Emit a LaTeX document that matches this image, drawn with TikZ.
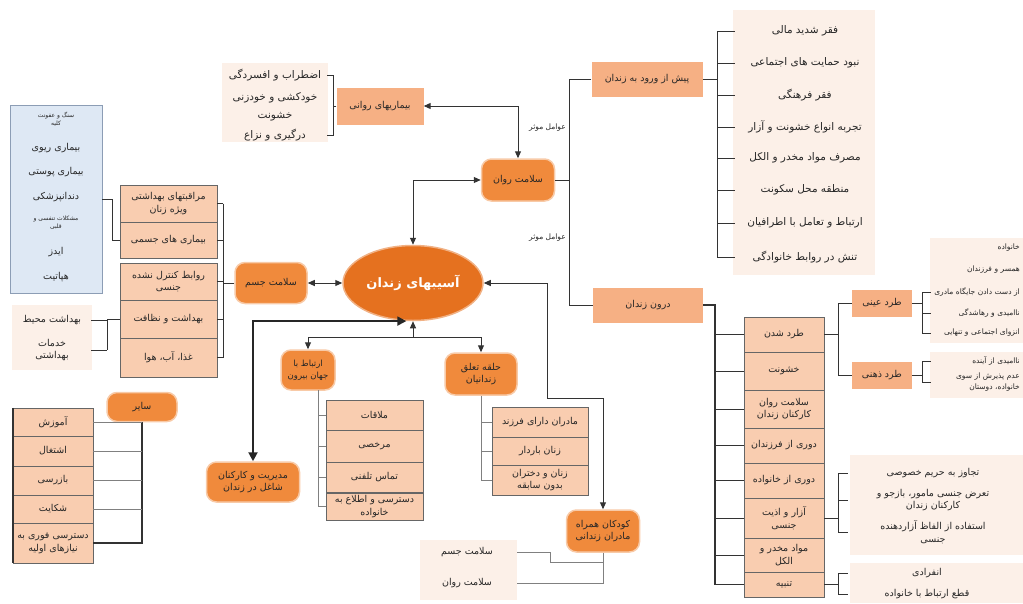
\documentclass[tikz,border=0pt]{standalone}
\usepackage{fontspec}
\newfontfamily\arabicfont[Script=Arabic]{DejaVu Sans}
\TeXXeTstate=1
\usetikzlibrary{arrows.meta}
\usetikzlibrary{shapes.geometric}

\definecolor{hubfill}{HTML}{E5711F}
\definecolor{mainfill}{HTML}{F08A3C}
\definecolor{catfill}{HTML}{F6B084}
\definecolor{boxfill}{HTML}{F9CDB0}
\definecolor{panelfill}{HTML}{FCF0E8}
\definecolor{bluefill}{HTML}{DEE8F4}
\definecolor{blueline}{HTML}{8C9DB5}

\newcommand{\fa}[1]{\beginR #1\endR}

\tikzset{
  txt/.style={font=\arabicfont\fontsize{9.5}{12.5}\selectfont, text=black!85, align=center, inner sep=1pt},
  big/.style={font=\arabicfont\fontsize{10.5}{13}\selectfont},
  small/.style={font=\arabicfont\fontsize{6}{8}\selectfont},
  side/.style={txt, font=\arabicfont\fontsize{7.5}{11}\selectfont, text width=88pt, align=right, anchor=east},
  hub/.style={txt, ellipse, fill=hubfill, draw=hubfill!55, line width=1.5pt, minimum width=140pt, minimum height=75pt, text=white, font=\arabicfont\bfseries\fontsize{13}{15}\selectfont},
  main/.style={txt, rounded corners=10pt, fill=mainfill, draw=mainfill!45, line width=1.5pt},
  cat/.style={txt, fill=catfill},
  box/.style={txt, fill=boxfill, draw=black!60},
  link/.style={draw=black!80, line width=1pt},
  faint/.style={draw=black!50, line width=0.6pt},
  onearr/.style={link, -{Triangle[width=6pt,length=7pt]}},
  twoarr/.style={link, {Triangle[width=6pt,length=7pt]}-{Triangle[width=6pt,length=7pt]}},
  twoarrT/.style={draw=black!85, line width=2pt, {Triangle[width=9pt,length=9pt]}-{Triangle[width=9pt,length=9pt]}}
}

\begin{document}
\begin{tikzpicture}[x=1pt, y=-1pt]
  \useasboundingbox (0,0) rectangle (1023,603);

  \fill[panelfill] (222,63) rectangle (328,142);
  \fill[panelfill] (733,10) rectangle (875,275);
  \fill[panelfill] (12,305) rectangle (92,370);
  \fill[panelfill] (930,238) rectangle (1023,343);
  \fill[panelfill] (930,352) rectangle (1023,398);
  \fill[panelfill] (850,455) rectangle (1023,555);
  \fill[panelfill] (850,563) rectangle (1023,603);
  \fill[panelfill] (420,540) rectangle (517,600);

  \node[hub] (hub) at (413,283) {\fa{آسیبهای زندان}};
  \node[main, minimum width=73pt, minimum height=42pt] (rav) at (518,180) {\fa{سلامت روان}};
  \node[main, minimum width=72pt, minimum height=41pt] (jesm) at (271,283) {\fa{سلامت جسم}};
  \node[main, minimum width=70pt, minimum height=29pt] (sayer) at (142,407) {\fa{سایر}};
  \node[main, minimum width=54pt, minimum height=40pt, font=\arabicfont\fontsize{8.5}{12}\selectfont] (ertb) at (308,370) {\fa{ارتباط با}\\\fa{جهان بیرون}};
  \node[main, minimum width=72pt, minimum height=42pt] (halq) at (481,374) {\fa{حلقه تعلق}\\\fa{زندانیان}};
  \node[main, minimum width=93pt, minimum height=40pt] (mod) at (253,482) {\fa{مدیریت و کارکنان}\\\fa{شاغل در زندان}};
  \node[main, minimum width=73pt, minimum height=42pt] (kids) at (603,531) {\fa{کودکان همراه}\\\fa{مادران زندانی}};

  \node[cat, minimum width=87pt, minimum height=37pt] (bim) at (380,106) {\fa{بیماریهای روانی}};
  \node[cat, minimum width=111pt, minimum height=35pt] (pish) at (647,79) {\fa{پیش از ورود به زندان}};
  \node[cat, minimum width=110pt, minimum height=35pt] (darun) at (648,305) {\fa{درون زندان}};
  \node[cat, minimum width=60pt, minimum height=27pt] (eyni) at (882,303) {\fa{طرد عینی}};
  \node[cat, minimum width=60pt, minimum height=27pt] (zehni) at (882,375) {\fa{طرد ذهنی}};

  \node[txt, big] (r1) at (275,75) {\fa{اضطراب و افسردگی}};
  \node[txt, big] (r2) at (275,98) {\fa{خودکشی و خودزنی}};
  \node[txt, big] (r3) at (275,117) {\fa{خشونت}};
  \node[txt, big] (r4) at (275,135) {\fa{درگیری و نزاع}};

  \node[txt, big, minimum width=140pt] (p1) at (805,31) {\fa{فقر شدید مالی}};
  \node[txt, big, minimum width=140pt] (p2) at (805,63) {\fa{نبود حمایت های اجتماعی}};
  \node[txt, big, minimum width=140pt] (p3) at (805,95) {\fa{فقر فرهنگی}};
  \node[txt, big, minimum width=140pt] (p4) at (805,127) {\fa{تجربه انواع خشونت و آزار}};
  \node[txt, big, minimum width=140pt] (p5) at (805,158) {\fa{مصرف مواد مخدر و الکل}};
  \node[txt, big, minimum width=140pt] (p6) at (805,190) {\fa{منطقه محل سکونت}};
  \node[txt, big, minimum width=140pt] (p7) at (805,223) {\fa{ارتباط و تعامل با اطرافیان}};
  \node[txt, big, minimum width=140pt] (p8) at (805,257) {\fa{تنش در روابط خانوادگی}};

  \node[txt, font=\arabicfont\fontsize{7.5}{9}\selectfont, anchor=east] (f1) at (567,128) {\fa{عوامل موثر}};
  \node[txt, font=\arabicfont\fontsize{7.5}{9}\selectfont, anchor=east] (f2) at (567,238) {\fa{عوامل موثر}};

  \node[box, minimum width=80pt, minimum height=35pt] (d1) at (784,334.5) {\fa{طرد شدن}};
  \node[box, minimum width=80pt, minimum height=38pt] (d2) at (784,371) {\fa{خشونت}};
  \node[box, minimum width=80pt, minimum height=38pt] (d3) at (784,409) {\fa{سلامت روان}\\\fa{کارکنان زندان}};
  \node[box, minimum width=80pt, minimum height=35pt] (d4) at (784,445.5) {\fa{دوری از فرزندان}};
  \node[box, minimum width=80pt, minimum height=35pt] (d5) at (784,480.5) {\fa{دوری از خانواده}};
  \node[box, minimum width=80pt, minimum height=40pt] (d6) at (784,518) {\fa{آزار و اذیت}\\\fa{جنسی}};
  \node[box, minimum width=80pt, minimum height=34pt] (d7) at (784,555) {\fa{مواد مخدر و}\\\fa{الکل}};
  \node[box, minimum width=80pt, minimum height=25pt] (d8) at (784,584.5) {\fa{تنبیه}};

  \node[side] (o1) at (1021,248) {\fa{خانواده}};
  \node[side] (o2) at (1021,270) {\fa{همسر و فرزندان}};
  \node[side] (o3) at (1021,292) {\fa{از دست دادن جایگاه مادری}};
  \node[side] (o4) at (1021,313) {\fa{ناامیدی و رهاشدگی}};
  \node[side] (o5) at (1021,333) {\fa{انزوای اجتماعی و تنهایی}};
  \node[side] (z1) at (1021,361) {\fa{ناامیدی از آینده}};
  \node[side] (z2) at (1021,382) {\fa{عدم پذیرش از سوی}\\\fa{خانواده، دوستان}};

  \node[txt, minimum width=170pt] (a1) at (933,473) {\fa{تجاوز به حریم خصوصی}};
  \node[txt, minimum width=170pt] (a2) at (933,500) {\fa{تعرض جنسی مامور، بازجو و}\\\fa{کارکنان زندان}};
  \node[txt, minimum width=170pt] (a3) at (933,532) {\fa{استفاده از الفاظ آزاردهنده}\\\fa{جنسی}};
  \node[txt, minimum width=158pt] (t1) at (927,573) {\fa{انفرادی}};
  \node[txt, minimum width=158pt] (t2) at (927,594) {\fa{قطع ارتباط با خانواده}};

  \node[draw=blueline, fill=bluefill, minimum width=92pt, minimum height=188pt, inner sep=0pt] (blue) at (56,199) {};
  \node[txt, small] (u1) at (56,119) {\fa{سنگ و عفونت}\\\fa{کلیه}};
  \node[txt] (u2) at (56,148) {\fa{بیماری ریوی}};
  \node[txt] (u3) at (56,172) {\fa{بیماری پوستی}};
  \node[txt] (u4) at (56,197) {\fa{دندانپزشکی}};
  \node[txt, small] (u5) at (56,223) {\fa{مشکلات تنفسی و}\\\fa{قلبی}};
  \node[txt] (u6) at (56,252) {\fa{ایدز}};
  \node[txt] (u7) at (56,277) {\fa{هپاتیت}};

  \node[box, minimum width=97pt, minimum height=37pt] (l1) at (168.5,203.5) {\fa{مراقبتهای بهداشتی}\\\fa{ویژه زنان}};
  \node[box, minimum width=97pt, minimum height=36pt] (l2) at (168.5,240) {\fa{بیماری های جسمی}};
  \node[box, minimum width=97pt, minimum height=37pt] (l3) at (168.5,281.5) {\fa{روابط کنترل نشده}\\\fa{جنسی}};
  \node[box, minimum width=97pt, minimum height=38pt] (l4) at (168.5,319) {\fa{بهداشت و نظافت}};
  \node[box, minimum width=97pt, minimum height=39pt] (l5) at (168.5,357.5) {\fa{غذا، آب، هوا}};

  \node[txt, minimum width=78pt] (b1) at (52,320) {\fa{بهداشت محیط}};
  \node[txt, minimum width=78pt] (b2) at (52,350) {\fa{خدمات}\\\fa{بهداشتی}};

  \node[box, minimum width=80pt, minimum height=28pt] (s1) at (53,422) {\fa{آموزش}};
  \node[box, minimum width=80pt, minimum height=30pt] (s2) at (53,451) {\fa{اشتغال}};
  \node[box, minimum width=80pt, minimum height=29pt] (s3) at (53,480.5) {\fa{بازرسی}};
  \node[box, minimum width=80pt, minimum height=28pt] (s4) at (53,509) {\fa{شکایت}};
  \node[box, minimum width=80pt, minimum height=40pt] (s5) at (53,543) {\fa{دسترسی فوری به}\\\fa{نیازهای اولیه}};

  \node[box, minimum width=97pt, minimum height=30pt] (e1) at (374.5,415) {\fa{ملاقات}};
  \node[box, minimum width=97pt, minimum height=32pt] (e2) at (374.5,446) {\fa{مرخصی}};
  \node[box, minimum width=97pt, minimum height=30pt] (e3) at (374.5,477) {\fa{تماس تلفنی}};
  \node[box, minimum width=97pt, minimum height=27pt] (e4) at (374.5,506.5) {\fa{دسترسی و اطلاع به}\\\fa{خانواده}};

  \node[box, minimum width=96pt, minimum height=30pt] (h1) at (540,422) {\fa{مادران دارای فرزند}};
  \node[box, minimum width=96pt, minimum height=28pt] (h2) at (540,451) {\fa{زنان باردار}};
  \node[box, minimum width=96pt, minimum height=30pt] (h3) at (540,480) {\fa{زنان و دختران}\\\fa{بدون سابقه}};

  \node[txt, minimum width=100pt] (k1) at (467,552) {\fa{سلامت جسم}};
  \node[txt, minimum width=100pt] (k2) at (467,583) {\fa{سلامت روان}};

  \draw[twoarr] (bim.east) -| (rav.north);
  \draw[twoarr] (hub.north) |- (rav.west);
  \draw[twoarr] (jesm) -- (hub);
  \draw[twoarrT] (mod.north) |- (hub.-100);
  \coordinate (hj) at (413,337);
  \draw[onearr] (hj) -- (hub.south);
  \draw[onearr] (hj) -| (ertb.north);
  \draw[onearr] (hj) -| (halq.north);
  \coordinate (kc) at (547,398);
  \draw[twoarr] (hub.east) -| (kc) -| (kids.north);

  \coordinate (rb) at (333,106);
  \draw[link] (bim.west) -- (rb);
  \draw[link] (rb |- r1) ++(-6,0) -- ++(6,0) -- (rb |- r4) -- ++(-6,0);

  \coordinate (v1) at (569,79);
  \coordinate (v2) at (569,305);
  \draw[link] (pish.west) -- (v1) -- (v2) -- (darun.west);
  \draw[link] (rav.east) -- (rav.east -| v1);

  \coordinate (pb) at (717,79);
  \draw[link] (pish.east) -- (pb);
  \draw[link] (pb |- p1.west) -- (pb |- p8.west);
  \draw[link] (p1.west) -- (pb |- p1.west) (p2.west) -- (pb |- p2.west)
    (p3.west) -- (pb |- p3.west) (p4.west) -- (pb |- p4.west)
    (p5.west) -- (pb |- p5.west) (p6.west) -- (pb |- p6.west)
    (p7.west) -- (pb |- p7.west) (p8.west) -- (pb |- p8.west);

  \coordinate (db) at (715,305);
  \draw[link, line width=1.5pt] (darun.east) -- (db) -- (db |- d8.west);
  \draw[link] (d1.west) -- (db |- d1.west) (d2.west) -- (db |- d2.west)
    (d3.west) -- (db |- d3.west) (d4.west) -- (db |- d4.west)
    (d5.west) -- (db |- d5.west) (d6.west) -- (db |- d6.west)
    (d7.west) -- (db |- d7.west) (d8.west) -- (db |- d8.west);

  \coordinate (tb) at (838,303);
  \draw[link] (d1.east) -- (tb |- d1.east);
  \draw[link] (tb |- eyni.west) -- (tb |- zehni.west);
  \draw[link] (eyni.west) -- (tb |- eyni.west) (zehni.west) -- (tb |- zehni.west);

  \coordinate (ob) at (922,303);
  \draw[link] (eyni.east) -- (ob);
  \draw[link] (ob |- o3.west) -- (ob |- o5.west);
  \draw[link] (o3.west) -- (ob |- o3.west) (o4.west) -- (ob |- o4.west) (o5.west) -- (ob |- o5.west);
  \draw[link] (zehni.east) -- (ob |- zehni.east);
  \draw[link] (ob |- z1.west) -- (ob |- z2.west);
  \draw[link] (z1.west) -- (ob |- z1.west) (z2.west) -- (ob |- z2.west);

  \coordinate (ab) at (838,518);
  \draw[link] (d6.east) -- (ab);
  \draw[link] (ab |- a1.west) -- (ab |- a3.west);
  \draw[link] (a1.west) -- (ab |- a1.west) (a2.west) -- (ab |- a2.west) (a3.west) -- (ab |- a3.west);
  \draw[link] (d8.east) -- (ab |- d8.east);
  \draw[link] (ab |- t1.west) -- (ab |- t2.west);
  \draw[link] (t1.west) -- (ab |- t1.west) (t2.west) -- (ab |- t2.west);

  \coordinate (lb) at (223,283);
  \draw[link] (jesm.west) -- (lb);
  \draw[link] (lb |- l1.east) -- (lb |- l5.east);
  \draw[link] (l1.east) -- (lb |- l1.east) (l2.east) -- (lb |- l2.east)
    (l3.east) -- (lb |- l3.east) (l4.east) -- (lb |- l4.east) (l5.east) -- (lb |- l5.east);
  \draw[link] (blue.east) -- ++(10,0) |- (l2.west);

  \coordinate (bb) at (107,319);
  \draw[link] (l4.west) -- (bb |- l4.west);
  \draw[link] (bb |- b1.east) -- (bb |- b2.east);
  \draw[link] (b1.east) -- (bb |- b1.east) (b2.east) -- (bb |- b2.east);

  \draw[link, line width=1.4pt] (sayer.south) -- (sayer.south |- s5.east) -- (s5.east);
  \draw[faint] (s1.east) -- (sayer.south |- s1.east) (s2.east) -- (sayer.south |- s2.east)
    (s3.east) -- (sayer.south |- s3.east) (s4.east) -- (sayer.south |- s4.east);
  \draw[line width=1.4pt, black!80] (s1.north west) -- (s5.south west);

  \coordinate (eb) at (318,390);
  \draw[faint] (eb) -- (eb |- e4.west);
  \draw[faint] (e1.west) -- (eb |- e1.west) (e2.west) -- (eb |- e2.west)
    (e3.west) -- (eb |- e3.west) (e4.west) -- (eb |- e4.west);

  \draw[faint] (halq.south) -- (halq.south |- h3.west);
  \draw[faint] (h1.west) -- (halq.south |- h1.west) (h2.west) -- (halq.south |- h2.west)
    (h3.west) -- (halq.south |- h3.west);

  \coordinate (kj) at (550,562);
  \draw[faint] (kids.south) -- (kids.south |- k2.east) -- (k2.east);
  \draw[faint] (k1.east) -| (kj) -- (kids.south |- kj);
\end{tikzpicture}
\end{document}
